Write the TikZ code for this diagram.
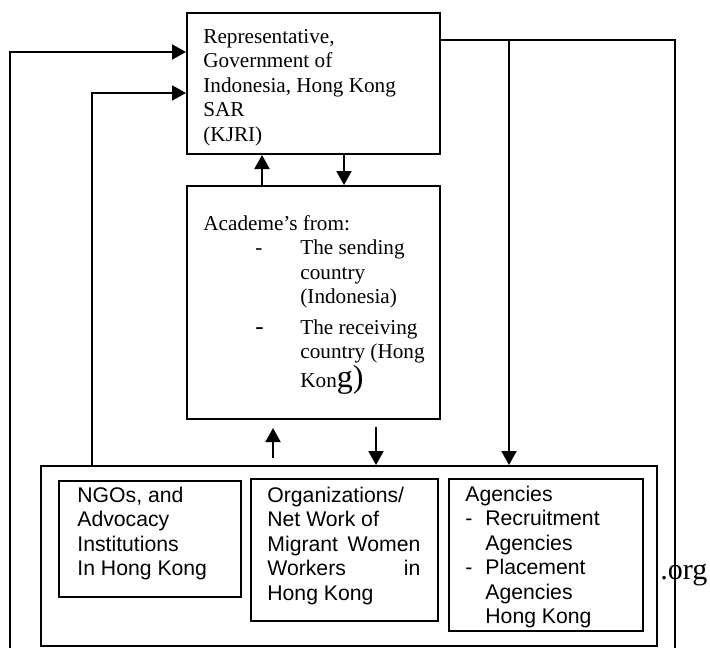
\documentclass[tikz,border=0pt]{standalone}
\usepackage{fontspec}
\setmainfont{Liberation Serif}
\newfontfamily\arialfont{Liberation Sans}
\usepackage{tikz}
\usetikzlibrary{arrows.meta,calc}

\tikzset{
  box/.style={draw,line width=1pt,inner sep=0pt},
  txt/.style={inner sep=0pt,anchor=base west,align=flush left,
    font=\fontsize{10.6pt}{12.25pt}\selectfont},
  stxt/.style={txt,font=\arialfont\fontsize{10.6pt}{12.25pt}\selectfont},
  wire/.style={line width=1pt},
  arr/.style={wire,-{Triangle[length=7pt,width=7.5pt]}}
}

\begin{document}
\begin{tikzpicture}[x=0.5pt,y=-0.5pt]
  \useasboundingbox (0,0) rectangle (710,648);
  % upper boxes
  \node[box,minimum width=126.5pt,minimum height=70.5pt] (kjri) at (313.5,83.5) {};
  \node[txt,text width=115pt] (kjri-t) at (203,43)
    {Representative,\\Government of\\Indonesia, Hong Kong\\SAR\\(KJRI)};
  \node[box,minimum width=126.5pt,minimum height=116.5pt] (acad) at (313.5,302.5) {};
  \node[txt,text width=115pt] (acad-t) at (203,230)
    {Academe's from:\\
     \hspace*{26pt}\makebox[22.5pt][l]{-}The sending\\
     \hspace*{48.5pt}country\\
     \hspace*{48.5pt}(Indonesia)\\[3pt]
     \hspace*{26pt}\makebox[22.5pt][l]{\fontsize{12.5pt}{12.25pt}\selectfont -}The receiving\\
     \hspace*{48.5pt}country (Hong\\
     \hspace*{48.5pt}Kon{\fontsize{16pt}{12.25pt}\selectfont g)}};
  % lower group
  \node[txt,font=\fontsize{15pt}{15pt}\selectfont] (url) at (660,579) {.org};
  \node[box,minimum width=308pt,minimum height=90pt] (grp) at (349,556) {};
  \node[box,minimum width=91pt,minimum height=58pt] (ngo) at (150,539) {};
  \node[stxt,text width=80pt] (ngo-t) at (77,502)
    {NGOs, and\\Advocacy\\Institutions\\In Hong Kong};
  \node[box,minimum width=93.5pt,minimum height=71pt] (org) at (344.5,550) {};
  \node[stxt,text width=76.5pt] (org-t) at (267,502)
    {Organizations/\\Net Work of\\\makebox[76.5pt][s]{Migrant\hfill Women}\\
     \makebox[76.5pt][s]{Workers\hfill in}\\Hong Kong};
  \node[box,minimum width=97pt,minimum height=76pt] (agen) at (546,555) {};
  \node[stxt,text width=85pt] (agen-t) at (465,501)
    {Agencies\\\makebox[10pt][l]{-}Recruitment\\\hspace*{10pt}Agencies\\
     \makebox[10pt][l]{-}Placement\\\hspace*{10pt}Agencies\\\hspace*{10pt}Hong Kong};
  % connectors
  \coordinate (tap) at (509,40);
  \coordinate (tr) at (675,40);
  \coordinate (br) at (675,648);
  \coordinate (bl) at (10,648);
  \coordinate (tl) at (10,52);
  \coordinate (ml) at (92,93);
  \coordinate (up1) at (262,170);
  \coordinate (dn1) at (344,170);
  \coordinate (up2) at (273,440);
  \coordinate (dn2) at (376,440);
  \draw[wire] (tap -| kjri.east) -- (tr) -- (br);
  \draw[arr] (tap) -- (tap |- grp.north);
  \draw[arr] (bl) -- (tl) -- (tl -| kjri.west);
  \draw[arr] (ml |- grp.north) -- (ml) -- (ml -| kjri.west);
  \draw[arr] (up1 |- acad.north) -- (up1 |- kjri.south);
  \draw[arr] (dn1 |- kjri.south) -- (dn1 |- acad.north);
  \draw[arr,shorten <=3.5pt,shorten >=4pt] (up2 |- grp.north) -- (up2 |- acad.south);
  \draw[arr,shorten <=3.5pt] (dn2 |- acad.south) -- (dn2 |- grp.north);
\end{tikzpicture}
\end{document}
